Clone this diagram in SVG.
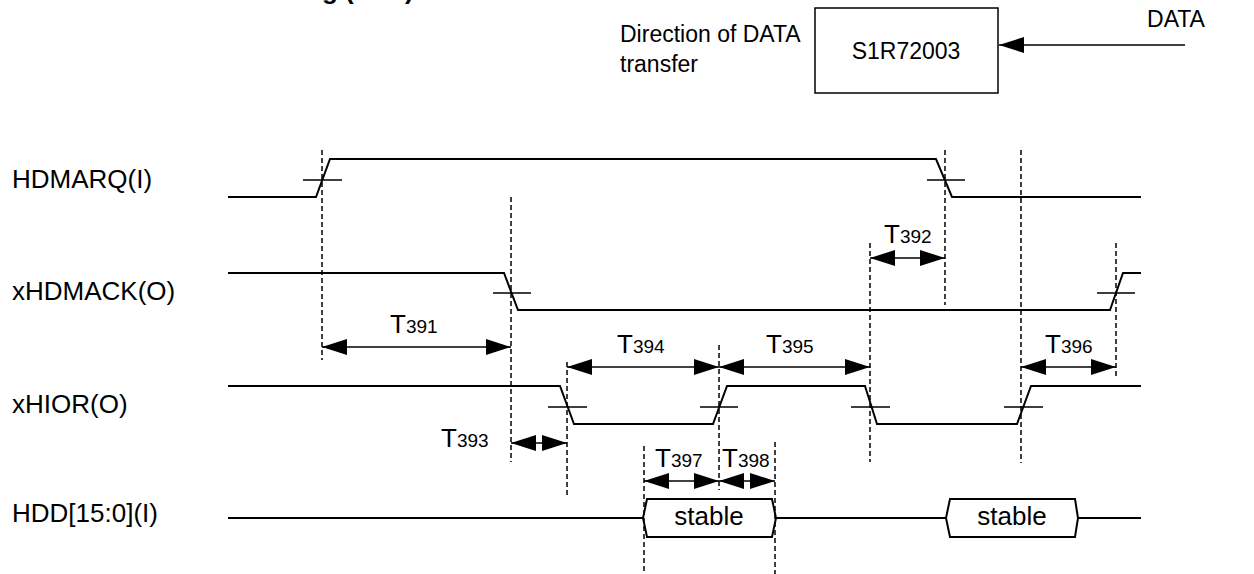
<svg xmlns="http://www.w3.org/2000/svg" width="1254" height="574" viewBox="0 0 1254 574">
<style>
.lbl{font-family:"Liberation Sans",Arial,sans-serif;font-size:26px;fill:#000}
.hd{font-family:"Liberation Sans",Arial,sans-serif;font-size:23px;fill:#000}
.tl{font-family:"Liberation Sans",Arial,sans-serif;font-size:26px;fill:#000}
.sub{font-size:19px}
.wave{fill:none;stroke:#000;stroke-width:2}
.thr{fill:none;stroke:#000;stroke-width:1.5}
.guide{fill:none;stroke:#000;stroke-width:1.5;stroke-dasharray:5,3}
.dim{fill:none;stroke:#000;stroke-width:1.5;marker-start:url(#ah);marker-end:url(#ah)}
</style>
<defs>
<marker id="ah" viewBox="0 0 25 16" refX="25" refY="8" markerWidth="25" markerHeight="16" markerUnits="userSpaceOnUse" orient="auto-start-reverse">
<path d="M0,0 L25,8 L0,16 Z" fill="#000"/>
</marker>
</defs>
<rect width="1254" height="574" fill="#fff"/>

<g id="title-fragment">
<text x="322" y="-1" style="font-family:'Liberation Sans',Arial,sans-serif;font-size:26px;font-weight:bold">g (</text>
<text x="405" y="-1" style="font-family:'Liberation Sans',Arial,sans-serif;font-size:26px;font-weight:bold">)</text>
</g>

<g id="direction-note">
<text class="hd" x="620" y="42">Direction of DATA</text>
<text class="hd" x="620" y="72">transfer</text>
</g>
<g id="chip-box">
<rect x="815" y="8" width="183" height="85" fill="none" stroke="#000" stroke-width="1.5"/>
<text class="hd" x="906" y="59" text-anchor="middle">S1R72003</text>
</g>
<g id="data-arrow">
<text class="hd" x="1176" y="27" text-anchor="middle">DATA</text>
<line x1="1185" y1="45" x2="999" y2="45" stroke="#000" stroke-width="1.5" marker-end="url(#ah)"/>
</g>

<g id="sig-hdmarq">
<text class="lbl" x="12" y="188">HDMARQ(I)</text>
<path class="wave" d="M228,197 H316 L330,159 H936 L952,197 H1141"/>
<path class="thr" d="M303,180 H342 M927,180 H965"/>
</g>
<g id="sig-xhdmack">
<text class="lbl" x="12" y="300">xHDMACK(O)</text>
<path class="wave" d="M228,273 H504 L518,310 H1110 L1123,273 H1141"/>
<path class="thr" d="M493,293 H531 M1097,293 H1135"/>
</g>
<g id="sig-xhior">
<text class="lbl" x="12" y="413">xHIOR(O)</text>
<path class="wave" d="M228,386 H560 L574,424 H713 L727,386 H865 L877,424 H1017 L1031,386 H1141"/>
<path class="thr" d="M548,407 H587 M700,407 H738 M851,407 H890 M1004,407 H1043"/>
</g>
<g id="sig-hdd">
<text class="lbl" x="12" y="522">HDD[15:0](I)</text>
<path class="wave" d="M228,518 H643 M776,518 H946 M1078,518 H1141"/>
<g id="stable-1">
<path class="wave" d="M643,518 L647,499 H772 L776,518 L772,537 H647 Z"/>
<text class="tl" x="709" y="525" text-anchor="middle">stable</text>
</g>
<g id="stable-2">
<path class="wave" d="M946,518 L950,499 H1075 L1078,518 L1075,537 H950 Z"/>
<text class="tl" x="1012" y="525" text-anchor="middle">stable</text>
</g>
</g>

<g id="guides">
<path class="guide" d="M322,150 V360"/>
<path class="guide" d="M511,197 V462"/>
<path class="guide" d="M945,150 V305"/>
<path class="guide" d="M870,243 V462"/>
<path class="guide" d="M1021,150 V463"/>
<path class="guide" d="M1116,243 V377"/>
<path class="guide" d="M567,362 V498"/>
<path class="guide" d="M719,345 V490"/>
<path class="guide" d="M644,446 V574"/>
<path class="guide" d="M775,442 V574"/>
</g>

<g id="connectors">
<line class="dim" x1="322" y1="347" x2="511" y2="347"/>
<line class="dim" x1="870" y1="258" x2="945" y2="258"/>
<line class="dim" x1="511" y1="443" x2="567" y2="443"/>
<line class="dim" x1="567" y1="367" x2="719" y2="367"/>
<line class="dim" x1="719" y1="367" x2="870" y2="367"/>
<line class="dim" x1="1021" y1="367" x2="1116" y2="367"/>
<line class="dim" x1="644" y1="481" x2="719" y2="481"/>
<line class="dim" x1="719" y1="481" x2="775" y2="481"/>
</g>

<g id="timing-labels">
<text class="tl" x="390" y="333">T<tspan class="sub">391</tspan></text>
<text class="tl" x="884" y="243">T<tspan class="sub">392</tspan></text>
<text class="tl" x="441" y="447">T<tspan class="sub">393</tspan></text>
<text class="tl" x="617" y="353">T<tspan class="sub">394</tspan></text>
<text class="tl" x="766" y="353">T<tspan class="sub">395</tspan></text>
<text class="tl" x="1045" y="353">T<tspan class="sub">396</tspan></text>
<text class="tl" x="655" y="467">T<tspan class="sub">397</tspan></text>
<text class="tl" x="722" y="467">T<tspan class="sub">398</tspan></text>
</g>
</svg>
